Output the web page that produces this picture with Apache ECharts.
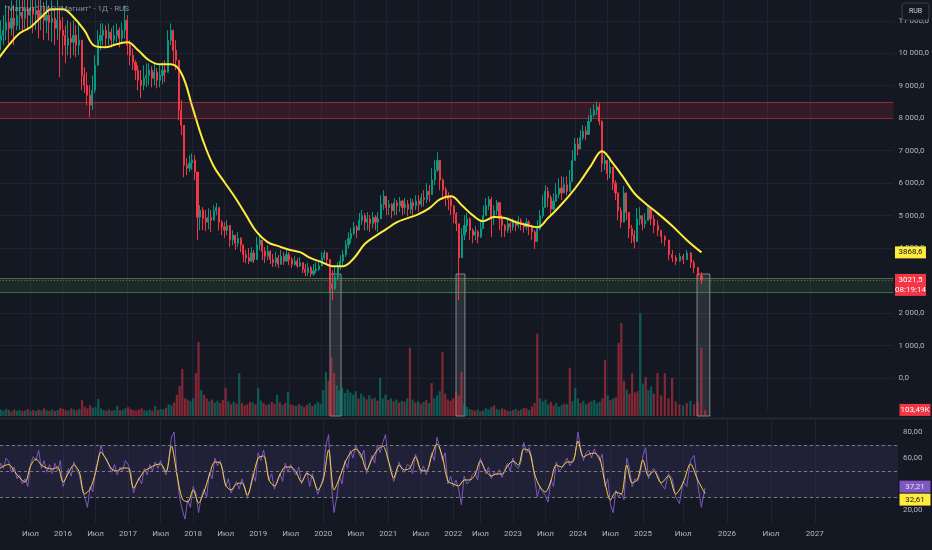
<!DOCTYPE html>
<html><head><meta charset="utf-8">
<script src="https://cdn.jsdelivr.net/npm/echarts@6/dist/echarts.min.js"></script>
<style>html,body{margin:0;padding:0;background:#141823;}#chart{width:932px;height:550px;}</style>
</head><body><div id="chart"></div>
<script>
// ---- data (semi-monthly candles, Jan 2015 .. Oct 2025; March 2022 had no trading) ----
const firstOpen = 10200;
const closes = [
10400,10550,10710,10950,10770,11080,10860,11170,11260,11080,
11320,11170,11380,11200,11320,11080,11260,11015,11170,10950,
11080,10770,11015,10710,10550,10250,10460,10340,10550,10250,
10400,9320,9015,8710,8400,8860,9630,10400,10550,10710,
10460,10650,10400,10550,10710,10460,10710,11015,10250,9940,
9720,9480,9170,9015,9230,9320,9480,9230,9415,9170,
9320,9480,9415,10400,10710,10090,9785,8250,7785,6550,
6460,6620,6710,6340,4950,5170,4920,4800,4950,4860,
5150,5250,4800,4650,4550,4700,4250,4400,4150,4300,
4100,3800,3700,3600,3850,3650,4100,4250,3900,3750,
3900,3650,3550,3700,3500,3750,3600,3800,3650,3500,
3600,3450,3550,3350,3250,3400,3200,3300,3350,3450,
3700,3850,3650,2900,2750,3100,3400,3600,3800,4100,
4300,4450,4650,4550,4850,5000,4800,4900,4750,4950,
4800,4900,5350,5600,5250,5350,5150,5400,5300,5450,
5250,5350,5200,5400,5300,5450,5350,5550,5500,5750,
5650,6100,6400,6700,6100,5800,5600,5500,5300,5050,
4750,3700,4400,4700,4900,4550,4400,4500,4350,4600,
5000,5300,5500,4950,5150,5400,4900,4700,4550,4750,
4650,4800,4700,4850,4750,4650,4800,4700,4500,4200,
4600,5000,5250,5750,5550,5200,5450,5650,5850,5700,
5950,5750,6050,6700,7200,7050,7400,7600,7500,7900,
8100,8250,8350,7900,6600,6700,6300,6500,6000,5700,
5150,4800,5700,5100,4600,4400,4200,4900,5000,4750,
4850,5250,4900,4700,4550,4350,4250,3800,3700,3600,
3750,3650,3850,3550,3400,3150,3021.5];
const highs = [
10860,11015,11170,11480,11320,11630,11480,11780,11940,11630,
11940,11780,12090,11780,11940,11630,11880,11570,11630,11480,
11630,11380,11630,11320,11110,10860,11015,10950,11015,10860,
10950,9785,9570,9415,9015,9320,9940,10710,10920,10920,
10860,10920,10770,10860,10920,10800,10950,11480,11170,10400,
10150,9785,9630,9480,9630,9690,9690,9600,9690,9540,
9630,9720,9785,10710,10920,10610,10400,9785,8555,6860,
6770,6860,6920,6860,5480,5320,5260,5170,5230,5170,
5320,5390,5170,4860,4800,4860,4490,4550,4400,4490,
4340,4000,3940,4000,4030,3940,4340,4400,4090,4030,
4090,3940,3820,3880,3785,3940,3880,3940,3880,3720,
3750,3690,3720,3570,3510,3540,3450,3510,3570,3570,
3880,3940,3880,3570,3320,3420,3570,3785,3940,4245,
4490,4610,4800,4710,5080,5170,5080,5110,5015,5110,
5015,5110,5630,5785,5540,5480,5390,5540,5480,5570,
5480,5540,5480,5540,5510,5630,5630,5690,5785,6000,
5940,6460,6710,6950,6710,6150,5880,5720,5630,5320,
5110,4710,4610,5015,5080,4950,4610,4680,4550,4830,
5320,5540,5600,5570,5320,5480,5320,5015,4740,4920,
4800,4920,4860,4980,4920,4800,4920,4860,4710,4550,
4860,5170,5630,5940,5880,5630,5690,6000,6150,6210,
6180,6210,6400,7015,7390,7390,7630,7785,7750,8090,
8310,8430,8510,8460,7940,6860,6710,6710,6340,6090,
5630,5260,5910,5630,5110,4710,4550,5230,5260,5015,
5080,5320,5260,5015,4860,4550,4400,4185,3940,3785,
3850,3820,3940,3880,3630,3420,3260];
const lows = [
9940,10090,10250,10400,10250,10550,10250,10710,10710,10620,
10770,10710,10860,10620,10710,10460,10710,10400,10620,10400,
10340,10250,10400,9260,9940,9690,9940,9850,9940,9880,
9940,8860,8770,8400,8030,8250,8770,9785,10090,10250,
10170,10250,10180,10250,10340,10180,10340,10460,9940,9630,
9480,9170,8860,8620,8860,8950,9015,8950,9015,8920,
8950,9050,9110,9480,10250,9690,9480,7940,7480,6180,
6245,6340,6400,6090,4245,4550,4550,4520,4580,4490,
4950,5015,4550,4400,4310,4400,4030,4090,3940,4030,
3880,3570,3540,3510,3570,3540,3720,3940,3630,3540,
3630,3510,3420,3420,3390,3540,3480,3570,3480,3390,
3450,3390,3420,3230,3140,3140,3110,3140,3230,3300,
3450,3630,3510,2640,2400,2710,3015,3320,3480,3720,
3990,4150,4400,4310,4550,4710,4550,4550,4490,4610,
4550,4490,4920,5170,5015,5015,4920,5015,5015,5110,
5015,5050,4980,5050,5015,5170,5110,5260,5290,5390,
5420,5785,5940,6340,5785,5480,5290,5170,5015,4770,
4520,2400,3880,4245,4490,4245,4150,4245,4150,4310,
4710,5015,5170,4340,4710,5015,4550,4340,4340,4470,
4470,4550,4520,4610,4550,4470,4550,4400,4245,3970,
4245,4550,4920,5320,5260,5015,5170,5420,5540,5480,
5720,5630,5840,6150,6860,6860,7170,7320,7320,7630,
7940,8030,8090,7785,6340,6400,6090,6150,5785,5480,
4860,4620,5015,4860,4310,4150,3990,4245,4710,4550,
4620,4860,4710,4460,4370,4150,4060,3630,3570,3480,
3570,3510,3630,3390,3230,3015,2890];
// volume, thousands of shares
const volumes = [
150,110,90,120,100,80,110,90,100,85,
95,120,90,100,85,110,95,130,100,90,
110,85,100,140,120,100,90,130,110,95,
120,270,160,130,180,140,150,290,130,100,
90,110,85,100,170,95,110,130,150,120,
100,90,110,130,100,90,110,95,170,100,
120,110,140,200,180,230,360,510,800,300,
280,250,300,730,1260,440,360,300,250,280,
230,260,220,270,480,250,200,240,210,730,
220,180,200,240,230,200,480,260,220,190,
200,240,210,360,230,190,220,410,200,180,
170,200,180,150,190,220,170,200,240,210,
440,750,600,1000,730,520,430,480,390,450,
400,360,420,300,380,330,280,350,290,310,
260,650,300,360,270,300,250,280,230,260,
240,300,1160,280,230,250,210,240,270,220,
560,300,350,420,1090,380,280,260,300,410,
350,750,200,150,120,100,90,110,80,95,
130,110,150,180,120,100,130,110,90,80,
100,120,90,110,140,130,100,160,220,1400,
300,250,280,200,240,180,220,160,190,210,
200,820,250,480,300,220,260,200,230,250,
270,220,240,300,950,350,270,300,320,1240,
1580,600,450,380,730,400,420,1750,550,660,
440,500,380,730,350,730,300,650,250,200,
180,220,260,200,240,1160,103.49];
// moving average of price, read every 4th candle
const maStep = 4;
const maValues = [9815,10250,10615,10800,11110,11355,11355,11110,10710,10220,
10185,10280,10340,10090,9785,9660,9660,9385,8370,7320,
6520,6030,5550,5015,4490,4185,4060,3950,3875,3690,
3570,3445,3445,3690,4125,4370,4585,4800,4925,5045,
5230,5510,5600,5320,5015,4830,4955,4925,4800,4710,
4645,4925,5260,5630,6060,6550,6985,6615,6170,5690,
5385,5070,4680,4245,3868.6];
// RSI per candle
const rsiValues = [
48,56,52,60,57,49,53,44,47,40,
44,38,55,61,58,66,52,58,49,55,
48,56,50,58,38,45,52,46,57,51,
47,36,30,22,38,34,52,58,70,62,
60,54,49,55,47,53,50,58,55,49,
33,40,45,40,52,47,55,50,57,52,
58,51,47,58,76,80,48,30,20,13,
28,22,38,33,18,30,36,30,49,44,
60,54,58,50,38,44,33,38,42,36,
44,38,29,36,48,42,64,58,66,56,
43,48,36,42,48,42,56,49,55,50,
47,53,40,45,50,38,48,40,32,38,
45,70,78,40,18,30,46,40,58,52,
66,60,70,64,60,66,48,55,62,56,
70,64,72,78,58,52,42,48,57,51,
49,55,54,48,63,58,48,54,47,53,
64,58,76,68,58,64,40,46,38,43,
36,24,46,40,42,47,49,43,60,54,
48,53,44,49,47,51,45,51,56,50,
60,54,52,57,72,64,68,60,45,30,
38,34,31,26,43,38,57,50,52,56,
60,54,58,62,80,68,58,64,66,60,
67,62,58,63,38,44,24,18,35,30,
33,28,60,52,38,44,42,48,62,68,
44,50,52,47,40,36,48,44,30,25,
42,38,58,62,40,22,37.21];
// RSI moving average, read every 2nd candle
const rsiMaStep = 2;
const rsiMaValues = [
50.8,53.8,55,50,44.6,41.5,53.8,59.2,54.6,52.3,
51.5,53.1,41.5,48.5,54.6,49.2,32.3,36.2,48.8,64.6,
58.5,51.5,50,52.3,52.3,36.9,43.8,50,52.3,54.6,
55.4,49.2,69.2,47.7,28.5,26.2,35.4,25.4,33.8,46.9,
56.9,56.2,39.2,35.4,40,40.8,31.5,44.6,60,61.5,
43.1,38.5,46.9,53.1,53.1,49.2,41.5,48,45.4,35.4,
43.1,66.2,35.4,44.6,56.2,63.8,66.9,62.3,50.8,59.2,
66.2,69.2,58.5,44.6,54.6,50.8,52.3,60.8,50.8,50,
61.5,70.8,60.8,42.3,40,38.5,43.1,43.1,46.9,57.7,
50,46.2,47.7,47.7,53.8,57.7,54.6,66.9,65.4,47.7,
37.7,33.8,42.3,54.6,53.1,56.9,56.9,73,60.8,63,
63.8,60,40.8,27.7,33.8,32.3,54.6,40.8,43.8,58.5,
46.2,50,40.8,46.2,32.3,40.8,55.4,43.1,32.61];
// time axis labels (slot index, text)
const tickSlots = [12,24,36,48,60,72,84,96,108,120,132,144,156,168,178,190,202,214,226,238,250,262,274,286];
const tickTexts = ['Июл','2016','Июл','2017','Июл','2018','Июл','2019','Июл','2020','Июл','2021','Июл','2022','Июл','2023','Июл','2024','Июл','2025','Июл','2026','Июл','2027'];
// zones
const resistanceZone = [8000, 8500];
const supportZone = [2640, 3080];
const highlightStart = [122.5, 169, 253.8];
const highlightEnd = [126.6, 172.3, 257.3];
const rsiLevels = [30, 50, 70];
const title = '"Магнит" ПАО "Магнит" - 1Д - RUS';
const timer = '08:19:14';

// ---- trading-time axis: weekend sessions from March 2025 widen the bars ----
const weekendStart = 242, weekendScale = 1.35;
function pos(s){ return s < weekendStart ? s : weekendStart + (s - weekendStart) * weekendScale; }

const F = "'Liberation Sans Narrow','Roboto','DejaVu Sans',sans-serif";
const UP = '#089981', DOWN = '#f23645';
const X_MIN = 0.738, X_MAX = 332.1;
const PRICE_MIN = -1000, PRICE_MAX = 11640;
const VOL_MAX = 2414;
const tickPos = tickSlots.map(pos);

function commaNum(v, d){ return v.toFixed(d).replace('.', ','); }
function spaced(v){ const s = v.toFixed(1).split('.'); return s[0].replace(/\B(?=(\d{3})+(?!\d))/g, ' ') + ',' + s[1]; }

const candleData = closes.map((c, i) => {
  const o = i === 0 ? firstOpen : closes[i - 1];
  return [pos(i), o, c, Math.min(lows[i], o, c), Math.max(highs[i], o, c)];
});
const volData = volumes.map((v, i) => {
  const o = i === 0 ? firstOpen : closes[i - 1];
  const up = closes[i] >= o;
  return { value: [pos(i), v], itemStyle: { color: up ? 'rgba(8,153,129,0.5)' : 'rgba(242,54,69,0.5)' } };
});
const maData = maValues.map((v, k) => [pos(k * maStep), v]);
const rsiData = rsiValues.map((v, i) => [pos(i), v]);
const rsiMaData = rsiMaValues.map((v, k) => [pos(k * rsiMaStep), v]);
const last = closes.length - 1;

function tag(value, text, bg, fg, offY, h){
  return { coord: [X_MAX, value], symbol: 'rect', symbolSize: [31, h || 12], symbolOffset: [17, offY || 0],
    itemStyle: { color: bg },
    label: { show: true, position: 'inside', formatter: text, color: fg, fontSize: 8, fontFamily: F, lineHeight: 10 } };
}

const xBase = (gi, labels) => ({
  type: 'value', gridIndex: gi, min: X_MIN, max: X_MAX,
  axisLine: { show: false },
  axisTick: { show: false, customValues: tickPos },
  splitLine: { show: gi !== 1, lineStyle: { color: '#1f2330', width: 1 } },
  axisLabel: labels ? {
    show: true, customValues: tickPos, color: '#b2b5be', fontSize: 8, fontFamily: F, margin: 7,
    formatter: v => { const k = tickPos.findIndex(p => Math.abs(p - v) < 1e-6); return k >= 0 ? tickTexts[k] : ''; }
  } : { show: false }
});

const chart = echarts.init(document.getElementById('chart'), null, { renderer: 'canvas' });
chart.setOption({
  backgroundColor: '#141823',
  animation: false,
  grid: [
    { left: 0, right: 34, top: 0, bottom: 139.5 },
    { left: 0, right: 34, top: 274, bottom: 134 },
    { left: 0, right: 34, top: 419, bottom: 27 }
  ],
  xAxis: [xBase(0, false), xBase(1, false), xBase(2, true)],
  yAxis: [
    { type: 'value', gridIndex: 0, position: 'right', min: PRICE_MIN, max: PRICE_MAX, interval: 1000,
      axisLine: { show: false }, axisTick: { show: false },
      splitLine: { show: true, showMinLine: false, showMaxLine: false, lineStyle: { color: '#1f2330' } },
      axisLabel: { color: '#b2b5be', fontSize: 8, fontFamily: F, margin: 5, align: 'left',
        formatter: v => (v < 0 || v % 1000 !== 0) ? '' : spaced(v) } },
    { type: 'value', gridIndex: 1, min: 0, max: VOL_MAX, show: false, splitLine: { show: false } },
    { type: 'value', gridIndex: 2, position: 'right', min: 10, max: 90, interval: 10,
      axisLine: { show: false }, axisTick: { show: false },
      splitLine: { show: true, showMinLine: false, showMaxLine: false,
        lineStyle: { color: ['rgba(0,0,0,0)', '#1f2330'] } },
      axisLabel: { color: '#b2b5be', fontSize: 8, fontFamily: F, margin: 5, align: 'left',
        formatter: v => (v % 20 === 0 && v > 10 && v < 90) ? commaNum(v, 2) : '' } }
  ],
  series: [
    { type: 'candlestick', xAxisIndex: 0, yAxisIndex: 0, data: candleData,
      encode: { x: 0, y: [1, 2, 3, 4] }, barWidth: 1.6, z: 3,
      itemStyle: { color: UP, color0: DOWN, borderColor: UP, borderColor0: DOWN, borderWidth: 1 },
      markArea: { silent: true, data: [
        [{ yAxis: resistanceZone[0], itemStyle: { color: 'rgba(242,54,69,0.14)' } }, { yAxis: resistanceZone[1] }],
        [{ yAxis: supportZone[0], itemStyle: { color: 'rgba(76,175,80,0.12)' } }, { yAxis: supportZone[1] }]
      ] },
      markLine: { silent: true, symbol: 'none', label: { show: false }, data: [
        { yAxis: resistanceZone[0], lineStyle: { color: 'rgba(242,54,69,0.5)', type: 'solid', width: 1 } },
        { yAxis: resistanceZone[1], lineStyle: { color: 'rgba(242,54,69,0.5)', type: 'solid', width: 1 } },
        { yAxis: supportZone[0], lineStyle: { color: 'rgba(76,175,80,0.6)', type: 'solid', width: 1 } },
        { yAxis: supportZone[1], lineStyle: { color: 'rgba(76,175,80,0.6)', type: 'solid', width: 1 } },
        { yAxis: closes[last], lineStyle: { color: 'rgba(242,54,69,0.7)', type: [1, 2], width: 1 } }
      ] },
      markPoint: { silent: true, data: [ tag(closes[last], commaNum(closes[last], 1) + '\n' + timer, '#f23645', '#ffffff', 5, 22) ] }
    },
    { type: 'line', xAxisIndex: 0, yAxisIndex: 0, data: maData, smooth: 0.4, symbol: 'none', z: 4,
      lineStyle: { color: '#ffeb3b', width: 2 },
      markPoint: { silent: true, data: [ tag(maValues[maValues.length - 1], commaNum(maValues[maValues.length - 1], 1), '#ffeb3b', '#131722', 0, 12) ] }
    },
    { type: 'bar', xAxisIndex: 1, yAxisIndex: 1, data: volData, barWidth: 2.2, z: 2,
      markArea: { silent: true, itemStyle: { color: 'rgba(200,205,215,0.12)', borderColor: 'rgba(210,215,225,0.55)', borderWidth: 1 },
        data: highlightStart.map((s, k) => [{ xAxis: pos(s), yAxis: 0 }, { xAxis: pos(highlightEnd[k]), yAxis: VOL_MAX }]) },
      markPoint: { silent: true, data: [ tag(volumes[last], commaNum(volumes[last], 2) + 'K', '#f23645', '#ffffff', 0, 12) ] }
    },
    { type: 'line', xAxisIndex: 2, yAxisIndex: 2, data: rsiData, symbol: 'none', z: 3,
      lineStyle: { color: '#7e57c2', width: 1 },
      markArea: { silent: true, data: [[{ yAxis: rsiLevels[0], itemStyle: { color: 'rgba(126,87,194,0.12)' } }, { yAxis: rsiLevels[2] }]] },
      markLine: { silent: true, symbol: 'none', label: { show: false },
        lineStyle: { color: '#787b86', type: [3, 3], width: 1 },
        data: rsiLevels.map(v => ({ yAxis: v })) },
      markPoint: { silent: true, data: [ tag(rsiValues[last], commaNum(rsiValues[last], 2), '#7e57c2', '#e8e4f5', -1, 12) ] }
    },
    { type: 'line', xAxisIndex: 2, yAxisIndex: 2, data: rsiMaData, smooth: 0.3, symbol: 'none', z: 4,
      lineStyle: { color: '#f5d63d', width: 1 },
      markPoint: { silent: true, data: [ tag(rsiMaValues[rsiMaValues.length - 1], commaNum(rsiMaValues[rsiMaValues.length - 1], 2), '#ffeb3b', '#131722', 6, 12) ] }
    }
  ],
  graphic: [
    { type: 'line', shape: { x1: 0, y1: 418.5, x2: 932, y2: 418.5 }, style: { stroke: '#2a2e39', lineWidth: 1.5 }, z: 10 },
    { type: 'text', left: 5, top: 5, style: { text: title, fill: 'rgba(178,181,190,0.75)', font: "8px " + F }, z: 10 },
    { type: 'rect', shape: { x: 902, y: 3, width: 27, height: 17, r: 3 }, style: { fill: '#141823', stroke: '#3a3e4a', lineWidth: 1 }, z: 10 },
    { type: 'text', x: 915.5, y: 11.5, style: { text: 'RUB', fill: '#d1d4dc', font: "7px " + F, align: 'center', verticalAlign: 'middle' }, z: 11 }
  ]
});
</script>
</body></html>
